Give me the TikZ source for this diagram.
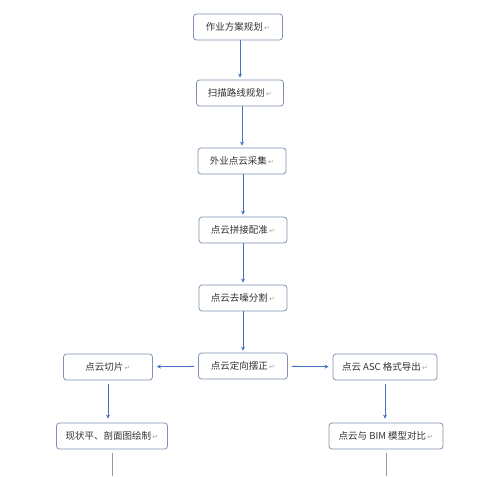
\documentclass[tikz,border=0pt]{standalone}
\usepackage{fontspec}
\newfontfamily\cjk{Noto Sans CJK SC}
\newfontfamily\symfont{DejaVu Sans}
\usepackage{tikz}
\usetikzlibrary{arrows.meta}
\definecolor{boxline}{RGB}{128,146,178}
\definecolor{arrowblue}{RGB}{68,114,196}
\definecolor{txtgray}{RGB}{50,50,50}
\newcommand{\ret}{{\symfont\color{gray!70}\scriptsize\,\raisebox{0.3pt}{↵}}}

\begin{document}
\begin{tikzpicture}[x=1pt,y=-1pt,
  stepbox/.style={draw=boxline,line width=0.8pt,rounded corners=3pt,
    minimum height=26pt,inner sep=0pt,font=\cjk\fontsize{9.5}{10}\selectfont,
    text=txtgray,fill=white},
  flow/.style={draw=arrowblue,line width=0.8pt,-{Stealth[length=4pt,width=4pt]}},
  tail/.style={draw=gray!80,line width=0.8pt}]
  \useasboundingbox (0,0) rectangle (500,476);
  \node[stepbox,minimum width=89pt] (plan) at (238,27) {作业方案规划\ret};
  \node[stepbox,minimum width=87pt] (route) at (240,93) {扫描路线规划\ret};
  \node[stepbox,minimum width=88pt] (collect) at (242,161) {外业点云采集\ret};
  \node[stepbox,minimum width=88pt] (register) at (243,230) {点云拼接配准\ret};
  \node[stepbox,minimum width=88pt] (denoise) at (243,298) {点云去噪分割\ret};
  \node[stepbox,minimum width=89pt] (orient) at (243,366) {点云定向摆正\ret};
  \node[stepbox,minimum width=89pt] (slice) at (108,367) {点云切片\ret};
  \node[stepbox,minimum width=104pt] (export) at (385,367) {点云 ASC 格式导出\ret};
  \node[stepbox,minimum width=111pt] (drawing) at (112,436) {现状平、剖面图绘制\ret};
  \node[stepbox,minimum width=114pt] (compare) at (386,436) {点云与 BIM 模型对比\ret};
  \coordinate (endl) at (drawing.south |- 0,476);
  \coordinate (endr) at (compare.south |- 0,476);
  \draw[flow,shorten >=2pt]
    (plan.south -| route.north)
    --
    (route.north);
  \draw[flow,shorten >=2pt]
    (route.south -| collect.north)
    --
    (collect.north);
  \draw[flow,shorten >=2pt]
    (collect.south -| register.north)
    --
    (register.north);
  \draw[flow,shorten >=2pt]
    (register.south)
    --
    (denoise.north);
  \draw[flow,shorten >=2pt]
    (denoise.south)
    --
    (orient.north);
  \draw[flow,shorten <=4pt,shorten >=4pt]
    (orient)
    --
    (slice);
  \draw[flow,shorten <=4pt,shorten >=4pt]
    (orient)
    --
    (export);
  \draw[flow,shorten <=4pt,shorten >=4pt]
    (slice)
    --
    (slice |- drawing.north);
  \draw[flow,shorten <=4pt,shorten >=4pt]
    (export)
    --
    (export |- compare.north);
  \draw[tail]
    ([yshift=-4pt]drawing.south)
    --
    (endl);
  \draw[tail]
    ([yshift=-4pt]compare.south)
    --
    (endr);
\end{tikzpicture}
\end{document}
